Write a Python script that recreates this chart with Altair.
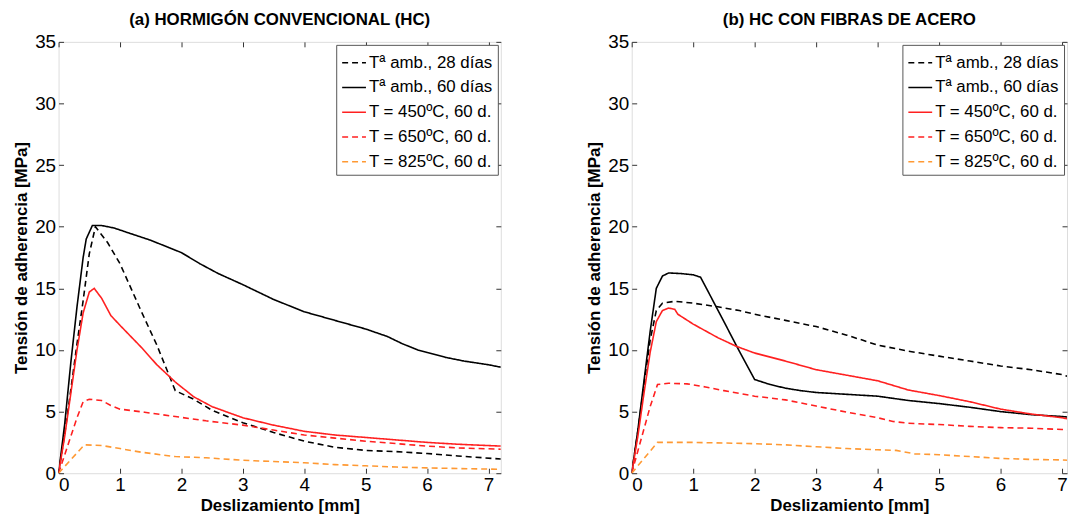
import altair as alt
import pandas as pd

SERIES = ["Tª amb., 28 días", "Tª amb., 60 días", "T = 450ºC, 60 d.",
          "T = 650ºC, 60 d.", "T = 825ºC, 60 d."]
COLORS = ["#000000", "#000000", "#ff2020", "#ff2020", "#ff9933"]
DASHES = [[6, 4], [1, 0], [1, 0], [6, 4], [6, 4]]

X_TICKS = [0, 1, 2, 3, 4, 5, 6, 7]
Y_TICKS = [0, 5, 10, 15, 20, 25, 30, 35]

TITLE_A = "(a) HORMIGÓN CONVENCIONAL (HC)"
TITLE_B = "(b) HC CON FIBRAS DE ACERO"
X_TITLE = "Deslizamiento [mm]"
Y_TITLE = "Tensión de adherencia [MPa]"

# ---------- panel (a) ----------
A28_X = [0, 0.1, 0.2, 0.3, 0.4, 0.5, 0.6, 0.8, 1.0, 1.35, 1.6, 1.9, 2.2, 2.5, 3.0, 3.5, 4.0, 4.5, 5.0, 5.5, 6.0, 6.5, 7.2]
A28_Y = [0, 3.2, 6.8, 10.5, 14.0, 17.8, 20.0, 18.7, 17.0, 13.1, 10.4, 6.7, 6.0, 5.1, 4.1, 3.3, 2.6, 2.1, 1.85, 1.75, 1.6, 1.4, 1.15]

A60_X = [0, 0.1, 0.2, 0.3, 0.4, 0.45, 0.55, 0.7, 0.9, 1.2, 1.5, 1.8, 2.0, 2.3, 2.6, 3.0, 3.5, 4.0, 4.5, 5.0, 5.35, 5.6, 5.85, 6.0, 6.3, 6.6, 7.0, 7.2]
A60_Y = [0, 4.0, 9.0, 13.5, 17.5, 19.0, 20.1, 20.1, 19.9, 19.4, 18.9, 18.3, 17.9, 17.0, 16.2, 15.3, 14.1, 13.1, 12.4, 11.7, 11.1, 10.5, 10.0, 9.8, 9.4, 9.1, 8.8, 8.6]

A450_X = [0, 0.1, 0.2, 0.3, 0.4, 0.5, 0.58, 0.7, 0.85, 1.0, 1.35, 1.6, 1.9, 2.2, 2.5, 3.0, 3.5, 4.0, 4.5, 5.0, 5.5, 6.0, 6.5, 7.2]
A450_Y = [0, 3.0, 6.5, 10.0, 13.0, 14.7, 15.0, 14.2, 12.8, 12.0, 10.2, 8.8, 7.4, 6.2, 5.4, 4.5, 3.9, 3.4, 3.1, 2.9, 2.7, 2.5, 2.35, 2.2]

A650_X = [0, 0.1, 0.2, 0.3, 0.4, 0.5, 0.7, 0.85, 1.0, 1.4, 1.9, 2.4, 3.0, 3.5, 4.0, 4.5, 5.0, 5.5, 6.0, 6.5, 7.2]
A650_Y = [0, 1.5, 3.0, 4.5, 5.8, 6.0, 5.9, 5.5, 5.2, 4.95, 4.6, 4.25, 3.9, 3.5, 3.1, 2.85, 2.6, 2.4, 2.2, 2.05, 1.95]

A825_X = [0, 0.2, 0.42, 0.7, 1.0, 1.35, 1.9, 2.4, 3.0, 3.5, 4.0, 4.5, 5.0, 5.5, 6.0, 6.5, 7.2]
A825_Y = [0, 1.1, 2.3, 2.25, 2.0, 1.7, 1.35, 1.25, 1.05, 0.95, 0.85, 0.7, 0.6, 0.5, 0.43, 0.38, 0.32]

# ---------- panel (b) ----------
B28_X = [0, 0.1, 0.2, 0.3, 0.4, 0.5, 0.7, 1.0, 1.4, 1.75, 2.0, 2.5, 3.0, 3.5, 3.75, 4.0, 4.5, 5.0, 5.5, 6.0, 6.5, 7.0, 7.2]
B28_Y = [0, 3.4, 7.2, 10.8, 13.2, 13.8, 13.95, 13.8, 13.5, 13.2, 12.9, 12.4, 11.9, 11.2, 10.8, 10.4, 9.9, 9.5, 9.1, 8.7, 8.4, 8.0, 7.7]

B60_X = [0, 0.1, 0.2, 0.3, 0.4, 0.5, 0.6, 0.8, 1.0, 1.12, 1.3, 1.5, 1.75, 2.0, 2.25, 2.5, 2.75, 3.0, 3.5, 4.0, 4.5, 5.0, 5.5, 6.0, 6.5, 7.0, 7.2]
B60_Y = [0, 3.5, 7.5, 11.5, 15.0, 16.0, 16.25, 16.2, 16.1, 15.9, 14.2, 12.3, 9.9, 7.6, 7.2, 6.9, 6.7, 6.55, 6.4, 6.25, 5.9, 5.65, 5.35, 5.0, 4.75, 4.6, 4.5]

B450_X = [0, 0.1, 0.2, 0.3, 0.4, 0.5, 0.6, 0.7, 0.75, 1.0, 1.4, 1.7, 2.0, 2.5, 3.0, 3.5, 4.0, 4.5, 5.0, 5.5, 6.0, 6.5, 7.0, 7.2]
B450_Y = [0, 3.0, 6.5, 9.8, 12.3, 13.2, 13.4, 13.3, 12.9, 12.1, 11.0, 10.3, 9.75, 9.1, 8.4, 7.95, 7.5, 6.75, 6.3, 5.8, 5.2, 4.8, 4.5, 4.3]

B650_X = [0, 0.1, 0.2, 0.3, 0.42, 0.6, 0.9, 1.2, 1.5, 2.0, 2.5, 3.0, 3.5, 4.0, 4.25, 4.5, 5.0, 5.5, 6.0, 6.5, 7.0, 7.2]
B650_Y = [0, 1.8, 3.6, 5.4, 7.2, 7.3, 7.25, 7.0, 6.7, 6.25, 5.95, 5.45, 4.95, 4.5, 4.2, 4.05, 3.95, 3.8, 3.7, 3.65, 3.55, 3.5]

B825_X = [0, 0.2, 0.42, 1.0, 1.5, 2.0, 2.5, 3.0, 3.5, 4.0, 4.3, 4.6, 5.0, 5.5, 6.0, 6.5, 7.0, 7.2]
B825_Y = [0, 1.2, 2.5, 2.5, 2.45, 2.4, 2.3, 2.15, 2.0, 1.9, 1.85, 1.57, 1.5, 1.35, 1.2, 1.12, 1.08, 1.03]

FONT = "Liberation Sans"
LEGEND_FONT = "Liberation Sans"


def make_df(parts):
    rows = []
    for name, xs, ys in parts:
        for i, (x, y) in enumerate(zip(xs, ys)):
            rows.append({"serie": name, "x": x, "y": y, "i": i})
    return pd.DataFrame(rows)


df_a = make_df([(SERIES[0], A28_X, A28_Y), (SERIES[1], A60_X, A60_Y),
                (SERIES[2], A450_X, A450_Y), (SERIES[3], A650_X, A650_Y),
                (SERIES[4], A825_X, A825_Y)])
df_b = make_df([(SERIES[0], B28_X, B28_Y), (SERIES[1], B60_X, B60_Y),
                (SERIES[2], B450_X, B450_Y), (SERIES[3], B650_X, B650_Y),
                (SERIES[4], B825_X, B825_Y)])

AX_COMMON = dict(grid=False, domain=False, tickSize=5, offset=-5,
                 tickColor="#333333", tickWidth=1,
                 labelFont=FONT, labelFontSize=19, labelColor="black",
                 titleFont=FONT, titleFontSize=17, titleFontWeight="bold",
                 titleColor="black")


def panel(df, title, xmax, width):
    xs = alt.Scale(domain=[0, xmax], nice=False, zero=False)
    ys = alt.Scale(domain=[0, 35], nice=False)
    legend = alt.Legend(title=None, orient="top-right", offset=3,
                        fillColor="white", strokeColor="#555555", padding=5,
                        symbolType="stroke", symbolSize=576,
                        symbolStrokeWidth=1.5, labelFont=LEGEND_FONT,
                        labelFontSize=17, labelLimit=400, rowPadding=4,
                        labelOffset=2, labelColor="black")
    lines = alt.Chart(df).mark_line(strokeWidth=1.6, clip=True).encode(
        x=alt.X("x:Q", scale=xs,
                axis=alt.Axis(orient="bottom", values=X_TICKS, title=X_TITLE,
                              labelPadding=2, titlePadding=4, format="d",
                              **AX_COMMON)),
        y=alt.Y("y:Q", scale=ys,
                axis=alt.Axis(orient="left", values=Y_TICKS, title=Y_TITLE,
                              labelPadding=3, titlePadding=4, format="d",
                              **AX_COMMON)),
        color=alt.Color("serie:N", scale=alt.Scale(domain=SERIES, range=COLORS),
                        legend=legend),
        strokeDash=alt.StrokeDash("serie:N",
                                  scale=alt.Scale(domain=SERIES, range=DASHES),
                                  legend=legend),
        order="i:Q",
    )
    frame = alt.Chart(df).mark_line(opacity=0, clip=True).encode(
        x=alt.X("x:Q", scale=xs,
                axis=alt.Axis(orient="top", values=X_TICKS, labels=False,
                              title=None, **AX_COMMON)),
        y=alt.Y("y:Q", scale=ys,
                axis=alt.Axis(orient="right", values=Y_TICKS, labels=False,
                              title=None, **AX_COMMON)),
    )
    return alt.layer(lines, frame).resolve_axis(
        x="independent", y="independent"
    ).properties(
        width=width, height=435,
        title=alt.TitleParams(title, font=FONT, fontSize=17,
                              fontWeight="bold", color="black",
                              anchor="middle", offset=4),
    )


pa = panel(df_a, TITLE_A, 7.2, 446)
pb = panel(df_b, TITLE_B, 7.08, 439)

chart = alt.hconcat(pa, pb, spacing=84).resolve_scale(
    color="independent", strokeDash="independent"
).properties(
    padding={"left": 4, "top": 0, "right": 0, "bottom": 0}
).configure_view(stroke="#333333", strokeWidth=1).configure(background="white")

chart.save("out.html", embed_options={"renderer": "svg", "actions": False})
